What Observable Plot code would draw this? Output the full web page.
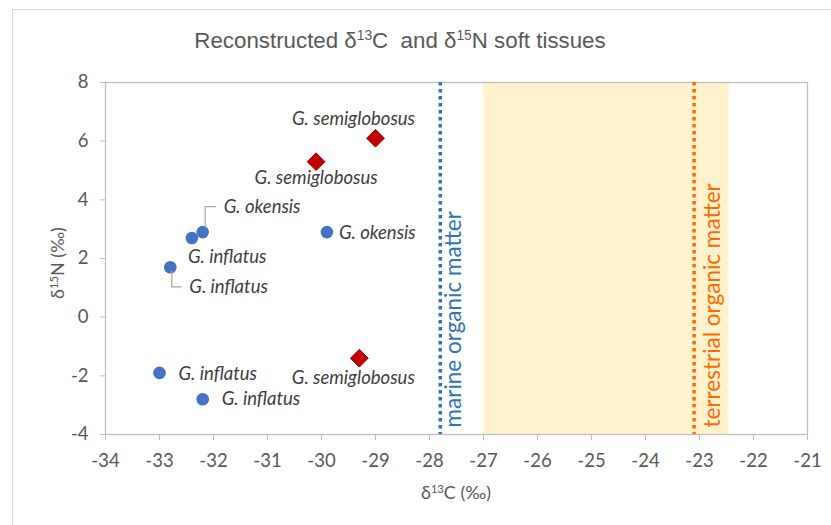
<!DOCTYPE html>
<html><head><meta charset="utf-8">
<script src="https://cdn.jsdelivr.net/npm/d3@7"></script>
<script src="https://cdn.jsdelivr.net/npm/@observablehq/plot@0.6"></script>
<style>
body{margin:0;background:#fff;}
#wrap{position:relative;width:831px;height:525px;overflow:hidden;font-family:Lato,sans-serif;}
#border{position:absolute;left:12px;top:9px;width:900px;height:600px;border:1.5px solid #d9d9d9;box-sizing:border-box;}
#chart{position:absolute;left:0;top:0;}
#title{position:absolute;left:0;width:800px;top:28px;text-align:center;font-family:"Liberation Sans",Arial,sans-serif;font-size:22.3px;color:#595959;white-space:pre;}
.sup{font-size:0.62em;position:relative;top:-0.55em;}
#ylab{position:absolute;left:57px;top:263px;transform:translate(-50%,-50%) rotate(-90deg);font-size:18px;color:#595959;white-space:nowrap;}
#xlab{position:absolute;left:456px;top:492px;transform:translate(-50%,-50%);font-size:18px;color:#595959;white-space:nowrap;}
g[aria-label="x-axis tick label"], g[aria-label="y-axis tick label"]{font-size:18.5px;}
</style>
</head><body>
<div id="wrap">
  <div id="border"></div>
  <div id="chart"></div>
  <div id="title">Reconstructed δ<span class="sup">13</span>C  and δ<span class="sup">15</span>N soft tissues</div>
  <div id="ylab">δ<span class="sup">15</span>N (‰)</div>
  <div id="xlab">δ<span class="sup">13</span>C (‰)</div>
</div>
<script>
// ---- data ----
const circleNames = ["G. inflatus","G. okensis","G. inflatus","G. okensis","G. inflatus","G. inflatus"];
const circleC = [-32.4, -32.2, -32.8, -29.9, -33.0, -32.2];
const circleN = [2.7, 2.9, 1.7, 2.9, -1.9, -2.8];

const diamondNames = ["G. semiglobosus","G. semiglobosus","G. semiglobosus"];
const diamondC = [-29.0, -30.1, -29.3];
const diamondN = [6.1, 5.3, -1.4];

const refNames = ["marine organic matter","terrestrial organic matter"];
const refC = [-27.8, -23.1];
const shadeRange = [-27.0, -22.45];

const xTicks = [-34,-33,-32,-31,-30,-29,-28,-27,-26,-25,-24,-23,-22,-21];
const yTicks = [-4,-2,0,2,4,6,8];

// ---- build tables ----
const circles = circleNames.map((name,i)=>({name, c: circleC[i], n: circleN[i]}));
const diamonds = diamondNames.map((name,i)=>({name, c: diamondC[i], n: diamondN[i]}));
const refs = refNames.map((name,i)=>({name, c: refC[i]}));

// label placement (pixel offsets from each point)
const circleLabelLayout = [
  {anchor:"start", dx:-4, dy:19},
  {anchor:"start", dx:21, dy:-25, leader:"up"},
  {anchor:"start", dx:19, dy:20, leader:"down"},
  {anchor:"start", dx:12, dy:1},
  {anchor:"start", dx:19, dy:1},
  {anchor:"start", dx:19, dy:0}
];
const diamondLabelLayout = [
  {anchor:"middle", dx:-22, dy:-19},
  {anchor:"middle", dx:0, dy:16},
  {anchor:"middle", dx:-6, dy:20}
];
const refColors = ["#2e75b6", "#ff6a00"];
const refDx = [21, 26];

const labelStyle = {fontStyle:"italic", fontSize:18.5, fill:"#404040", fontFamily:"Lato"};

const marks = [
  Plot.rect([shadeRange], {x1: d=>d[0], x2: d=>d[1], y1: ()=>yTicks[0], y2: ()=>yTicks[yTicks.length-1], fill:"#fff2cc"}),
  Plot.frame({stroke:"#bfbfbf", strokeWidth:1.3}),
  Plot.axisX({ticks: xTicks, tickSize: 6, tickPadding: 13, stroke:"#bfbfbf", fill:"#595959", fontSize:18.5, tickFormat: d=>String(d), label:null}),
  Plot.axisY({ticks: yTicks, tickSize: 5, tickPadding: 12, stroke:"#bfbfbf", fill:"#595959", fontSize:18.5, tickFormat: d=>String(d), label:null})
];
refs.forEach((r,i)=>{
  marks.push(Plot.ruleX([r], {x:"c", stroke: refColors[i], strokeWidth:3.5, strokeDasharray:"3.5,3.5"}));
  marks.push(Plot.text([r], {x:"c", frameAnchor:"bottom", text:"name", rotate:-90, textAnchor:"start", dx: refDx[i], dy:-7, fill: refColors[i], fontSize:22.5, fontFamily:"Lato"}));
});
marks.push(Plot.dot(circles, {x:"c", y:"n", r:6.3, fill:"#4472c4", stroke:"none"}));
marks.push(Plot.dot(diamonds, {x:"c", y:"n", symbol:"diamond2", r:8, fill:"#c00000", stroke:"#9e0000", strokeWidth:1}));
circles.forEach((d,i)=>{
  const L = circleLabelLayout[i];
  marks.push(Plot.text([d], {x:"c", y:"n", text:"name", textAnchor:L.anchor, dx:L.dx, dy:L.dy, ...labelStyle}));
});
diamonds.forEach((d,i)=>{
  const L = diamondLabelLayout[i];
  marks.push(Plot.text([d], {x:"c", y:"n", text:"name", textAnchor:L.anchor, dx:L.dx, dy:L.dy, ...labelStyle}));
});

const plot = Plot.plot({
  width: 831, height: 525,
  marginLeft: 105, marginRight: 24, marginTop: 82, marginBottom: 91,
  x: {domain: [xTicks[0], xTicks[xTicks.length-1]]},
  y: {domain: [yTicks[0], yTicks[yTicks.length-1]]},
  style: {fontFamily:"Lato", fontSize:"17.5px", color:"#595959", background:"transparent", overflow:"visible"},
  marks
});

// leader lines for crowded labels
const sx = plot.scale("x"), sy = plot.scale("y");
const svg = d3.select(plot);
circles.forEach((d,i)=>{
  const L = circleLabelLayout[i];
  if (!L.leader) return;
  const px = sx.apply(d.c), py = sy.apply(d.n);
  let p;
  if (L.leader === "up") p = `M${px+3},${py-4}V${py+L.dy}H${px+L.dx-7}`;
  else p = `M${px+2},${py+4}V${py+L.dy}H${px+L.dx-7}`;
  svg.append("path").attr("d", p).attr("fill","none").attr("stroke","#a6a6a6").attr("stroke-width",1.2);
});
document.getElementById("chart").appendChild(plot);
</script>
</body></html>
